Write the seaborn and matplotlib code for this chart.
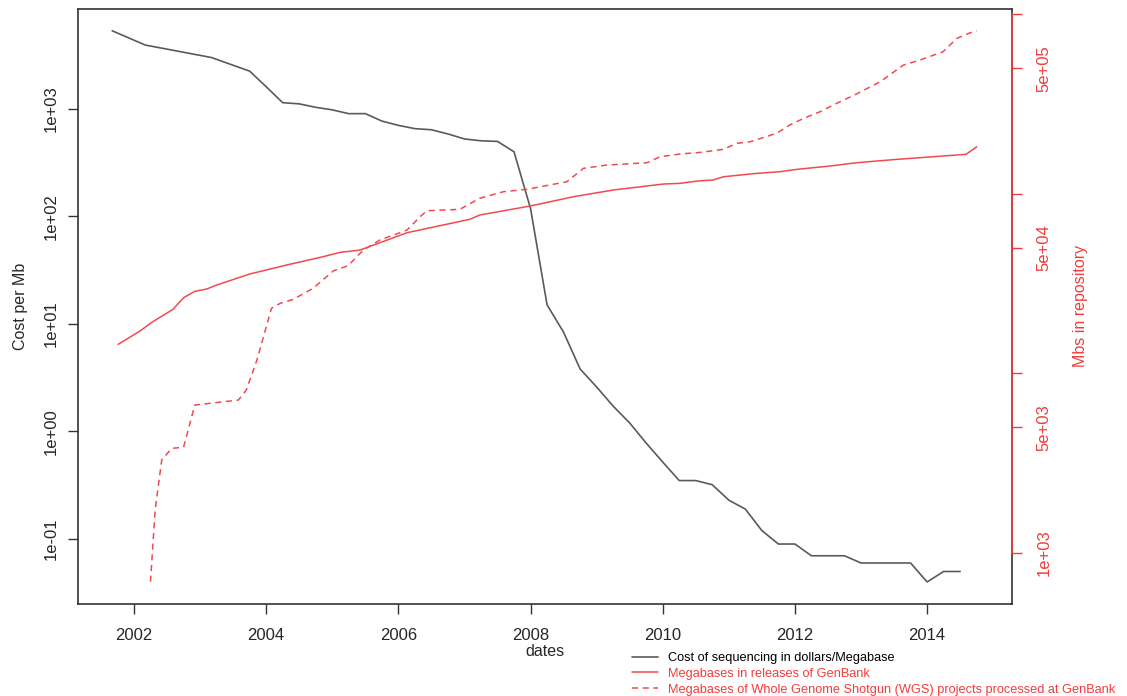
import numpy as np
import pandas as pd
import matplotlib
matplotlib.use("Agg")
import matplotlib.pyplot as plt
import seaborn as sns
from matplotlib.lines import Line2D
from matplotlib.ticker import FixedLocator, FixedFormatter, NullLocator

# cost of sequencing (dollars per megabase), left axis
cost_dates = [2001.67, 2002.17, 2002.67, 2003.17, 2003.75, 2004.0, 2004.25, 2004.5,
              2004.75, 2005.0, 2005.25, 2005.5, 2005.75, 2006.0, 2006.25, 2006.5,
              2006.75, 2007.0, 2007.25, 2007.5, 2007.75, 2008.0, 2008.25, 2008.5,
              2008.75, 2009.0, 2009.25, 2009.5, 2009.75, 2010.0, 2010.25, 2010.5,
              2010.75, 2011.0, 2011.25, 2011.5, 2011.75, 2012.0, 2012.25, 2012.5,
              2012.75, 2013.0, 2013.25, 2013.5, 2013.75, 2014.0, 2014.25, 2014.5]
cost_per_mb = [5292.39, 3898.64, 3413.80, 2986.20, 2230.98, 1598.91, 1135.70, 1107.46,
               1028.85, 974.16, 897.76, 898.90, 766.73, 699.20, 651.81, 636.41,
               581.92, 522.71, 502.61, 495.96, 397.09, 118.0, 15.03, 8.36,
               3.81, 2.59, 1.72, 1.20, 0.78, 0.52, 0.35, 0.35,
               0.32, 0.23, 0.19, 0.12, 0.09, 0.09, 0.07, 0.07,
               0.07, 0.06, 0.06, 0.06, 0.06, 0.04, 0.05, 0.05]

# megabases in GenBank releases, right axis
gb_dates = [2001.76, 2002.09, 2002.27, 2002.59, 2002.75, 2002.92, 2003.10, 2003.25,
            2003.75, 2004.31, 2004.86, 2005.12, 2005.42, 2005.72, 2006.13, 2007.08,
            2007.23, 2007.99, 2008.14, 2008.65, 2009.25, 2010.01, 2010.26, 2010.56,
            2010.76, 2010.92, 2011.42, 2011.77, 2012.03, 2012.53, 2012.93, 2013.54,
            2014.09, 2014.59, 2014.75]
gb_mb = [14520, 17220, 19250, 22750, 26400, 28650, 29510, 31050,
         35770, 40140, 44650, 47230, 48640, 53430, 60740, 72100,
         76200, 85500, 87800, 96400, 105000, 113400, 114400, 118300,
         119300, 124500, 130000, 132800, 136900, 142800, 149000, 155600,
         160900, 166000, 182900]

# megabases of WGS projects, right axis
wgs_dates = [2002.25, 2002.32, 2002.42, 2002.57, 2002.75, 2002.92, 2003.15, 2003.58,
             2003.70, 2003.86, 2004.08, 2004.21, 2004.41, 2004.71, 2005.02, 2005.24,
             2005.47, 2005.72, 2006.13, 2006.33, 2006.43, 2006.93, 2007.23, 2007.59,
             2007.94, 2008.55, 2008.80, 2009.15, 2009.76, 2009.96, 2010.26, 2010.56,
             2010.92, 2011.12, 2011.32, 2011.72, 2011.92, 2012.13, 2012.38, 2012.63,
             2012.93, 2013.29, 2013.64, 2013.89, 2014.24, 2014.45, 2014.65, 2014.75]
wgs_mb = [692, 1735, 3296, 3828, 3878, 6670, 6815, 7110,
          8085, 11870, 23040, 24550, 25860, 29780, 37320, 39790,
          48650, 55300, 62850, 74580, 80500, 81990, 94400, 102800,
          105900, 116800, 138700, 144600, 149000, 160900, 166600, 170000,
          177000, 191000, 195000, 217200, 241500, 263000, 286500, 319000,
          359500, 421000, 521000, 556000, 618000, 734000, 788000, 809000]

x_ticks = [2002, 2004, 2006, 2008, 2010, 2012, 2014]
left_ticks = [1e-1, 1e0, 1e1, 1e2, 1e3]
left_labels = ["1e-01", "1e+00", "1e+01", "1e+02", "1e+03"]
right_ticks = [1e3, 5e3, 1e4, 5e4, 1e5, 5e5, 1e6]
right_labels = ["1e+03", "5e+03", "", "5e+04", "", "5e+05", ""]

legend_labels = ["Cost of sequencing in dollars/Megabase",
                 "Megabases in releases of GenBank",
                 "Megabases of Whole Genome Shotgun (WGS) projects processed at GenBank"]

sns.set_theme(style="white")
plt.rcParams['font.family'] = ['Liberation Sans', 'DejaVu Sans']

RED = '#f23c3c'
LINE_RED = '#f04a50'
GRAY = '#5a5a5a'
FRAME = '#333333'

fig = plt.figure(figsize=(11.27, 6.96), dpi=100)
ax = fig.add_axes([78 / 1127, 1 - 604 / 696, (1011.7 - 78) / 1127, (604 - 8.7) / 696])
ax.set_yscale('log')

cost = pd.DataFrame({'date': cost_dates, 'cost': cost_per_mb})
sns.lineplot(data=cost, x='date', y='cost', ax=ax, color=GRAY, lw=1.2)

ax.set_xlim(2001.153, 2015.28)
ax.set_ylim(10 ** -1.603, 10 ** 3.9286)
ax.xaxis.set_major_locator(FixedLocator(x_ticks))
ax.yaxis.set_major_locator(FixedLocator(left_ticks))
ax.yaxis.set_major_formatter(FixedFormatter(left_labels))
ax.yaxis.set_minor_locator(NullLocator())
ax.tick_params(axis='both', direction='out', length=7, width=1, color=FRAME,
               labelsize=12, left=True, bottom=True)
ax.tick_params(axis='x', pad=10)
ax.tick_params(axis='y', pad=7)
for lab in ax.get_yticklabels():
    lab.set_rotation(90)
    lab.set_va('center')
for s in ax.spines.values():
    s.set_color(FRAME)
    s.set_linewidth(1.2)

ax.set_xlabel('dates', fontsize=11.5, va='center')
ax.xaxis.set_label_coords(0.5, -0.079)
ax.set_ylabel('Cost per Mb', fontsize=11.5, va='center')
ax.yaxis.set_label_coords((20 - 78) / 933.7, 0.5)

ax2 = ax.twinx()
ax2.set_yscale('log')
gb = pd.DataFrame({'date': gb_dates, 'mb': gb_mb})
wgs = pd.DataFrame({'date': wgs_dates, 'mb': wgs_mb})
sns.lineplot(data=gb, x='date', y='mb', ax=ax2, color=LINE_RED, lw=1.1)
sns.lineplot(data=wgs, x='date', y='mb', ax=ax2, color=LINE_RED, lw=1.1, linestyle='--')
ax2.lines[-1].set_dashes((4, 3))

ax2.set_ylim(10 ** 2.716, 10 ** 6.031)
ax2.yaxis.set_major_locator(FixedLocator(right_ticks))
ax2.yaxis.set_major_formatter(FixedFormatter(right_labels))
ax2.yaxis.set_minor_locator(NullLocator())
ax2.tick_params(axis='y', direction='out', length=7, width=1, color=RED,
                labelcolor=RED, labelsize=12, pad=11, right=True)
for lab in ax2.get_yticklabels():
    lab.set_rotation(90)
    lab.set_va('center')
for name in ['left', 'top', 'bottom']:
    ax2.spines[name].set_visible(False)
ax2.spines['right'].set_color(RED)
ax2.spines['right'].set_linewidth(1.2)
ax2.spines['right'].set_bounds(1e3, 1e6)
ax2.set_xlabel('')
ax2.set_ylabel('Mbs in repository', color=RED, fontsize=11.5, va='center')
ax2.yaxis.set_label_coords((1080 - 78) / 933.7, 0.5)

handles = [Line2D([], [], color=GRAY, lw=1.2),
           Line2D([], [], color=LINE_RED, lw=1.1),
           Line2D([], [], color=LINE_RED, lw=1.1, dashes=(4, 3))]
leg = fig.legend(handles, legend_labels, loc='upper left',
                 bbox_to_anchor=(632 / 1127, 1 - 652 / 696), frameon=False,
                 fontsize=9.2, handlelength=2.0, handletextpad=0.8,
                 labelspacing=0.3, borderpad=0, borderaxespad=0)
for t, c in zip(leg.get_texts(), ['black', RED, RED]):
    t.set_color(c)

fig.savefig('out.png', dpi=100)
